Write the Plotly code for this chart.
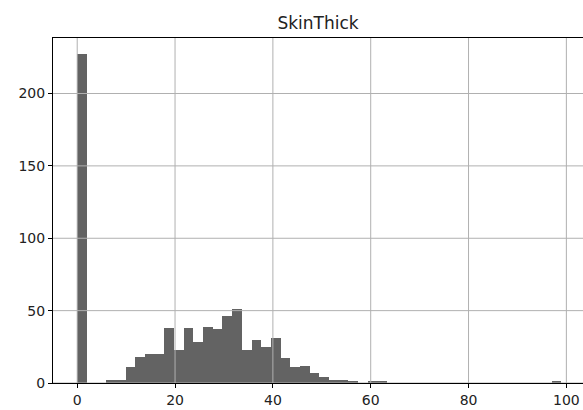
import numpy as np
import plotly.graph_objects as go

# Histogram of SkinThick: 50 equal bins spanning 0..99
bin_start = 0.0
bin_stop = 99.0
n_bins = 50
counts = [227, 0, 0, 2, 2, 11, 18, 20, 20, 38,
          23, 38, 28, 39, 37, 46, 51, 23, 30, 25,
          31, 17, 11, 12, 7, 4, 2, 2, 1, 0,
          1, 1, 0, 0, 0, 0, 0, 0, 0, 0,
          0, 0, 0, 0, 0, 0, 0, 0, 0, 1]
x_ticks = [0, 20, 40, 60, 80, 100]
y_ticks = [0, 50, 100, 150, 200]
title_text = "SkinThick"

edges = np.linspace(bin_start, bin_stop, n_bins + 1)
centers = (edges[:-1] + edges[1:]) / 2
width = edges[1] - edges[0]

fig = go.Figure()
fig.add_trace(go.Bar(
    x=centers, y=counts, width=width,
    marker=dict(color="#636363", line=dict(color="#555555", width=0)),
    hoverinfo="x+y",
))

# grid lines drawn above bars (like matplotlib default)
for t in x_ticks:
    fig.add_shape(type="line", xref="x", yref="paper", x0=t, x1=t, y0=0, y1=1,
                  line=dict(color="#b0b0b0", width=1), layer="above")
for t in y_ticks:
    fig.add_shape(type="line", xref="paper", yref="y", x0=0, x1=1, y0=t, y1=t,
                  line=dict(color="#b0b0b0", width=1), layer="above")

ymax = max(counts) * 1.05
fig.update_layout(
    width=583, height=410,
    margin=dict(l=53, r=0, t=38, b=27),
    paper_bgcolor="white", plot_bgcolor="white",
    bargap=0, showlegend=False,
    font=dict(family="DejaVu Sans", size=14, color="#222222"),
    title=dict(text=title_text, x=0.5, xref="paper", y=1 - 23 / 410,
               yref="container", xanchor="center", yanchor="middle",
               font=dict(family="DejaVu Sans", size=17, color="#222222")),
)
fig.update_xaxes(range=[-4.95, 103.4], tickvals=x_ticks, showgrid=False,
                 zeroline=False, showline=True, mirror=True, linecolor="black",
                 linewidth=1, ticks="outside", ticklen=4, tickcolor="black",
                 layer="above traces")
fig.update_yaxes(range=[0, ymax], tickvals=y_ticks, showgrid=False,
                 zeroline=False, showline=True, mirror=False, linecolor="black",
                 linewidth=1, ticks="outside", ticklen=4, tickcolor="black",
                 layer="above traces")

fig.write_html("out.html", config={"displayModeBar": False},
               post_script="document.body.style.margin='0';document.body.style.overflow='hidden';")
